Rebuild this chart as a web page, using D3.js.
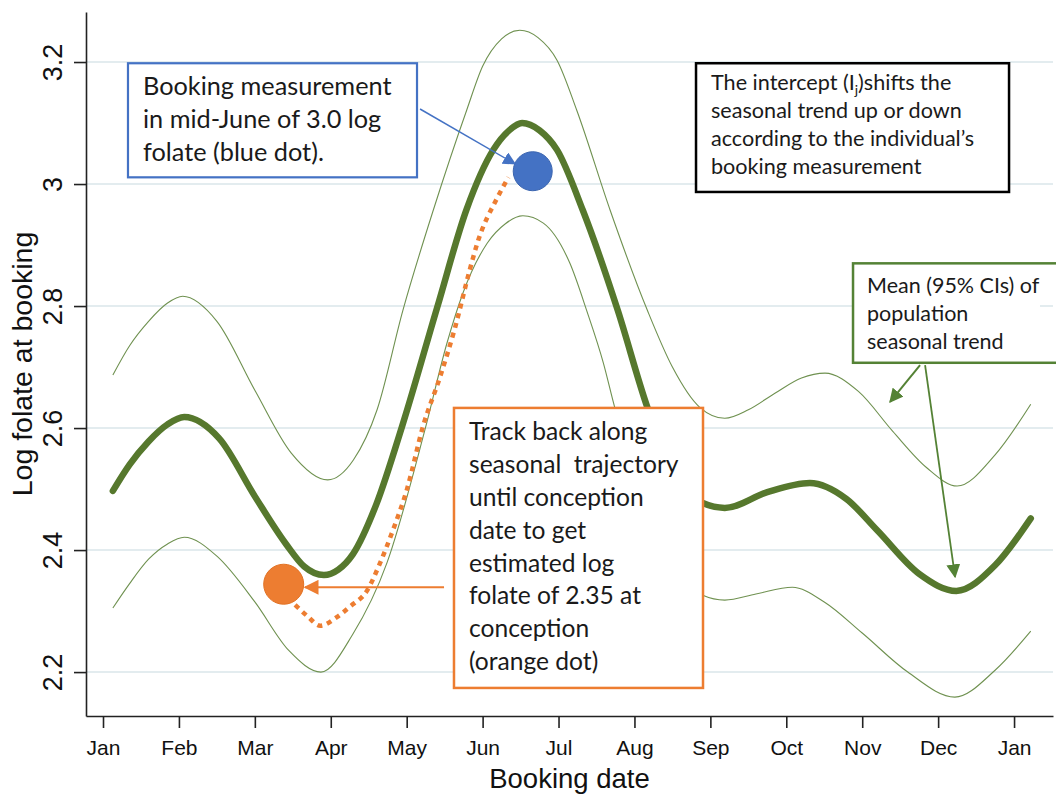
<!DOCTYPE html>
<html><head><meta charset="utf-8">
<script src="https://cdn.jsdelivr.net/npm/d3@7"></script>
<style>body{margin:0;background:#fff}svg{display:block}</style>
</head><body>
<svg id="chart" width="1056" height="794"></svg>
<script>
// ---------- data ----------
const monthLabels = ["Jan","Feb","Mar","Apr","May","Jun","Jul","Aug","Sep","Oct","Nov","Dec","Jan"];
const monthTicks = [0,1,2,3,4,5,6,7,8,9,10,11,12];
const yTicks = [2.2,2.4,2.6,2.8,3.0,3.2];
const yTickLabels = ["2.2","2.4","2.6","2.8","3","3.2"];

// population mean seasonal trend (month index, log folate)
const meanMonths = [0.13,0.35,0.6,0.85,1.07,1.53,2.0,2.41,2.65,2.91,3.1,3.29,3.6,3.94,4.4,4.79,5.14,5.35,5.52,5.75,5.98,6.32,6.78,7.17,7.5,7.9,8.19,8.75,9.31,9.79,10.2,10.75,11.24,11.75,12.22];
const meanValues = [2.497,2.54,2.578,2.606,2.618,2.583,2.488,2.41,2.373,2.359,2.368,2.393,2.475,2.603,2.797,2.959,3.056,3.088,3.10,3.088,3.056,2.957,2.793,2.634,2.53,2.477,2.469,2.495,2.51,2.484,2.432,2.361,2.333,2.375,2.452];

// upper 95% CI
const upperMonths = [0.13,0.35,0.6,0.85,1.05,1.5,2.0,2.48,2.96,3.3,3.61,3.95,4.35,4.79,5.0,5.25,5.49,5.73,5.98,6.24,6.68,7.17,7.5,7.86,8.19,8.5,8.85,9.2,9.51,9.95,10.4,10.85,11.25,11.75,12.22];
const upperValues = [2.687,2.735,2.775,2.805,2.816,2.775,2.662,2.559,2.515,2.548,2.63,2.793,2.957,3.121,3.193,3.238,3.252,3.24,3.203,3.121,2.957,2.793,2.70,2.634,2.616,2.63,2.657,2.682,2.69,2.66,2.595,2.535,2.505,2.556,2.639];

// lower 95% CI
const lowerMonths = [0.13,0.35,0.6,0.85,1.07,1.5,2.0,2.45,2.87,3.29,3.74,4.24,4.53,4.74,5.06,5.3,5.53,5.8,6.15,6.37,6.59,6.74,7.2,7.55,7.9,8.19,8.6,9.08,9.5,10.0,10.6,11.22,11.75,12.22];
const lowerValues = [2.305,2.345,2.385,2.41,2.421,2.39,2.315,2.235,2.2,2.262,2.379,2.597,2.739,2.821,2.903,2.935,2.948,2.936,2.87,2.793,2.707,2.634,2.46,2.37,2.326,2.318,2.328,2.339,2.315,2.264,2.2,2.159,2.203,2.267];

// individual track-back trajectory (dotted orange)
const trackMonths = [2.53,2.69,2.86,3.08,3.25,3.48,3.65,3.82,4.00,4.22,4.44,4.64,4.83,4.93,5.20,5.34];
const trackValues = [2.310,2.292,2.276,2.290,2.307,2.334,2.379,2.433,2.498,2.605,2.684,2.766,2.859,2.903,2.979,3.011];

// points
const bookingPoint = {month: 5.66, value: 3.021};
const conceptionPoint = {month: 2.38, value: 2.344};

// ---------- layout ----------
const svg = d3.select("#chart");
const x = d3.scaleLinear().domain([-0.224, 12.513]).range([86, 1053]);
const y = d3.scaleLinear().domain([2.128, 3.282]).range([716, 12]);
const axisFont = "'Liberation Sans', Arial, sans-serif";
const boxFont = "Lato, 'Open Sans', sans-serif";

const zip = (ms, vs) => ms.map((m, i) => [m, vs[i]]);

// gridlines
svg.append("g").selectAll("line").data(yTicks).join("line")
  .attr("x1", x.range()[0]).attr("x2", x.range()[1])
  .attr("y1", d => y(d)).attr("y2", d => y(d))
  .attr("stroke", "#e3ecef").attr("stroke-width", 2);

// axes
const xAxis = svg.append("g").attr("transform", `translate(0,${y.range()[0]})`)
  .call(d3.axisBottom(x).tickValues(monthTicks).tickFormat(i => monthLabels[i])
        .tickSize(12).tickSizeOuter(0).tickPadding(12));
xAxis.selectAll("text").attr("font-family", axisFont).attr("font-size", 21).attr("fill", "#111");
xAxis.selectAll("line,path").attr("stroke", "#222").attr("stroke-width", 1.6);

const yAxis = svg.append("g").attr("transform", `translate(${x.range()[0]},0)`)
  .call(d3.axisLeft(y).tickValues(yTicks).tickFormat((d, i) => yTickLabels[i])
        .tickSize(12).tickSizeOuter(0));
yAxis.selectAll("text")
  .attr("x", 0).attr("y", 0).attr("dy", 0)
  .attr("transform", "translate(-24,0) rotate(-90)")
  .attr("text-anchor", "middle")
  .attr("font-family", axisFont).attr("font-size", 27).attr("fill", "#111");
yAxis.selectAll("line,path").attr("stroke", "#222").attr("stroke-width", 1.6);

// axis titles
svg.append("text").attr("x", (x.range()[0] + x.range()[1]) / 2).attr("y", 788)
  .attr("text-anchor", "middle").attr("font-family", axisFont).attr("font-size", 27.5)
  .attr("fill", "#111").text("Booking date");
svg.append("text").attr("transform", `translate(32,${(y.range()[0] + y.range()[1]) / 2}) rotate(-90)`)
  .attr("text-anchor", "middle").attr("font-family", axisFont).attr("font-size", 28.5)
  .attr("fill", "#111").text("Log folate at booking");

// curves
const line = d3.line().x(d => x(d[0])).y(d => y(d[1])).curve(d3.curveMonotoneX);
svg.append("path").attr("d", line(zip(upperMonths, upperValues)))
  .attr("fill", "none").attr("stroke", "#6f9150").attr("stroke-width", 1.1);
svg.append("path").attr("d", line(zip(lowerMonths, lowerValues)))
  .attr("fill", "none").attr("stroke", "#6f9150").attr("stroke-width", 1.1);
svg.append("path").attr("d", line(zip(meanMonths, meanValues)))
  .attr("fill", "none").attr("stroke", "#56782d").attr("stroke-width", 6.5)
  .attr("stroke-linecap", "round").attr("stroke-linejoin", "round");

// dotted track-back
svg.append("path").attr("d", line(zip(trackMonths, trackValues)))
  .attr("fill", "none").attr("stroke", "#ED7D31").attr("stroke-width", 4.5)
  .attr("stroke-dasharray", "5,5");

// dots
svg.append("circle").attr("cx", x(bookingPoint.month)).attr("cy", y(bookingPoint.value)).attr("r", 19.5)
  .attr("fill", "#4472C4").attr("stroke", "#3b65b0").attr("stroke-width", 1);
svg.append("circle").attr("cx", x(conceptionPoint.month)).attr("cy", y(conceptionPoint.value)).attr("r", 20)
  .attr("fill", "#ED7D31").attr("stroke", "#e27224").attr("stroke-width", 1);

// markers
const defs = svg.append("defs");
function marker(id, color, size) {
  defs.append("marker").attr("id", id).attr("viewBox", "0 0 10 10")
    .attr("refX", 9).attr("refY", 5).attr("markerUnits", "userSpaceOnUse")
    .attr("markerWidth", size).attr("markerHeight", size).attr("orient", "auto")
    .append("path").attr("d", "M0,0 L10,5 L0,10 Z").attr("fill", color);
}
marker("arrBlue", "#4472C4", 13);
marker("arrOrange", "#ED7D31", 15);
marker("arrGreen", "#548235", 14);

// annotation boxes (positions in data units)
const boxes = [
  {m0: 0.329, m1: 4.136, v0: 3.198, v1: 3.011, color: "#4472C4", sw: 2.2, size: 25.3, lineGap: 32.7, first: 32, pad: 15,
   lines: ["Booking measurement", "in mid-June of 3.0 log", "folate (blue dot)."]},
  {m0: 7.811, m1: 11.934, v0: 3.198, v1: 2.987, color: "#000", sw: 2.5, size: 21.6, lineGap: 28, first: 26.5, pad: 15,
   lines: ["__INTERCEPT__", "seasonal trend up or down", "according to the individual\u2019s", "booking measurement"]},
  {m0: 9.879, m1: 12.7, v0: 2.870, v1: 2.707, color: "#548235", sw: 2.5, size: 21.5, lineGap: 28, first: 29.5, pad: 14, fillTo: 1040,
   lines: ["Mean (95% CIs) of", "population", "seasonal trend"]},
  {m0: 4.623, m1: 7.903, v0: 2.633, v1: 2.174, color: "#ED7D31", sw: 2.5, size: 24.6, lineGap: 32.9, first: 32, pad: 15,
   lines: ["Track back along", "seasonal\u00a0 trajectory", "until conception", "date to get", "estimated log", "folate of 2.35 at", "conception", "(orange dot)"]}
];
boxes.forEach(b => {
  const bx = x(b.m0), by = y(b.v0), bw = x(b.m1) - bx, bh = y(b.v1) - by;
  const g = svg.append("g");
  g.append("rect").attr("x", bx).attr("y", by).attr("width", (b.fillTo ? b.fillTo : bx + bw) - bx).attr("height", bh)
    .attr("fill", "#fff");
  g.append("rect").attr("x", bx).attr("y", by).attr("width", bw).attr("height", bh)
    .attr("fill", "none").attr("stroke", b.color).attr("stroke-width", b.sw);
  b.lines.forEach((t, i) => {
    const tx = g.append("text").attr("x", bx + b.pad).attr("y", by + b.first + i * b.lineGap)
      .attr("font-family", boxFont).attr("font-size", b.size).attr("fill", "#1a1a1a");
    if (t === "__INTERCEPT__") {
      tx.append("tspan").text("The intercept (I");
      tx.append("tspan").attr("dy", 5).attr("font-size", b.size * 0.65).text("j");
      tx.append("tspan").attr("dy", -5).text(")shifts the");
    } else {
      tx.text(t);
    }
  });
});

// arrows
const arrows = [
  {from: [4.176, 3.123], to: [5.427, 3.033], color: "#4472C4", w: 1.5, m: "arrBlue"},
  {from: [4.492, 2.339], to: [2.661, 2.339], color: "#ED7D31", w: 2, m: "arrOrange"},
  {from: [10.762, 2.703], to: [10.367, 2.643], color: "#548235", w: 2, m: "arrGreen"},
  {from: [10.828, 2.703], to: [11.223, 2.356], color: "#548235", w: 1.8, m: "arrGreen"}
];
arrows.forEach(a => {
  svg.append("line").attr("x1", x(a.from[0])).attr("y1", y(a.from[1]))
    .attr("x2", x(a.to[0])).attr("y2", y(a.to[1]))
    .attr("stroke", a.color).attr("stroke-width", a.w).attr("marker-end", `url(#${a.m})`);
});
</script>
</body></html>
